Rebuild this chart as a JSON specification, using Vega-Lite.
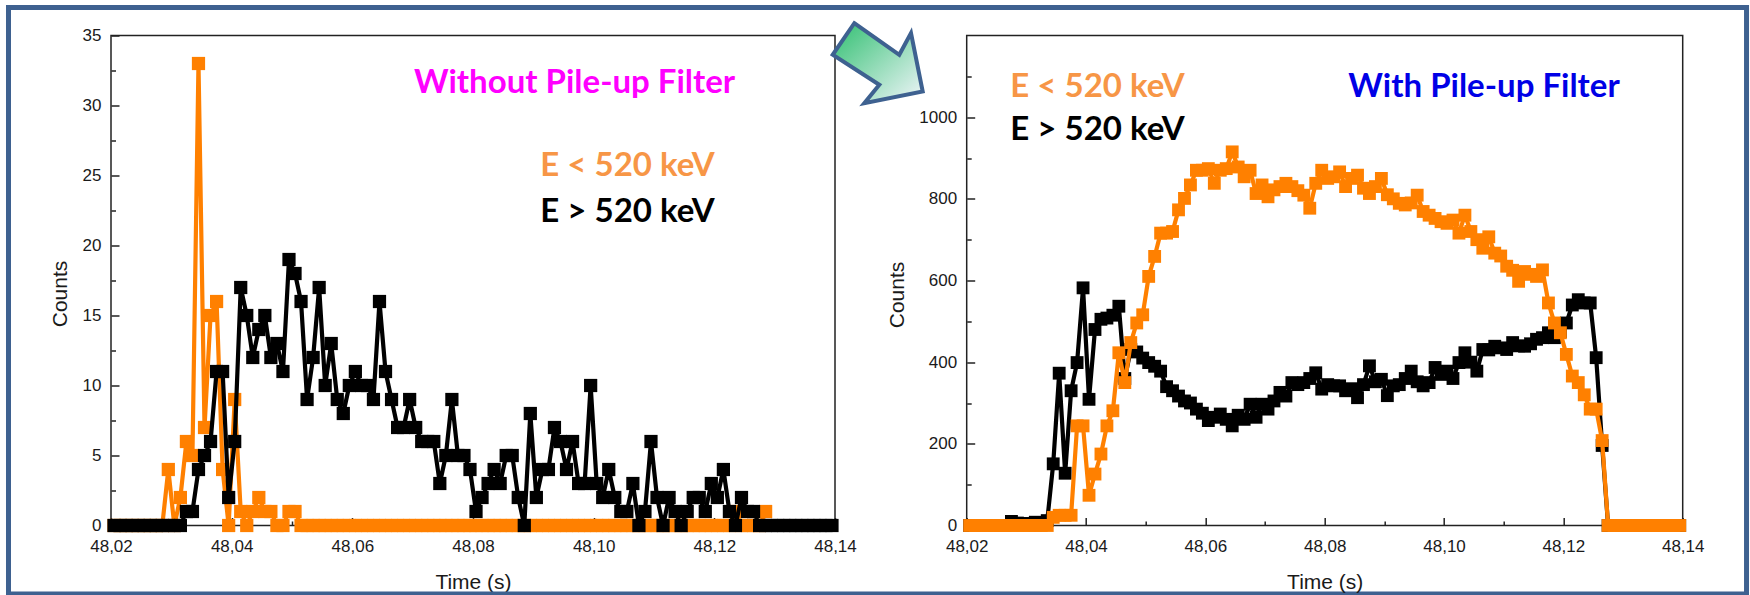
{
 "$schema": "https://vega.github.io/schema/vega-lite/v6.json",
 "background": "white",
 "padding": {"left": 5, "top": 3.5, "right": 2, "bottom": 0},
 "bounds": "flush",
 "spacing": 131.7,
 "resolve": {"scale": {"color": "independent"}},
 "config": {
  "view": {"stroke": "#222222", "strokeWidth": 1.5},
  "font": "Liberation Sans",
  "axis": {"grid": false, "domain": false, "labelFont": "Liberation Sans", "labelFontSize": 17, "labelColor": "#1a1a1a", "titleFont": "Liberation Sans", "titleFontSize": 21, "titleFontWeight": "normal", "titleColor": "#1a1a1a", "tickColor": "#222222", "tickWidth": 1.5, "labelFlush": false, "labelOverlap": false}
 },
 "datasets": {
  "frame": [{"time_start": 48.003011, "time_end": 48.291082, "counts_top": 37.0, "counts_bottom": -4.893}],
  "arrow": [{"time": 48.005084, "counts": 1132.2}],
  "labels_pre": [
   {"time": 48.096824, "counts": 30.86, "label": "Without Pile-up Filter"},
   {"time": 48.105608, "counts": 24.93, "label": "E < 520 keV"},
   {"time": 48.105608, "counts": 21.71, "label": "E > 520 keV"}
  ],
  "labels_post": [
   {"time": 48.10670, "counts": 1050.6, "label": "With Pile-up Filter"},
   {"time": 48.041922, "counts": 1050.6, "label": "E < 520 keV"},
   {"time": 48.041922, "counts": 945.3, "label": "E > 520 keV"}
  ],
  "pre_high": [
   {"time":48.0205,"counts":0},{"time":48.0215,"counts":0},{"time":48.0225,"counts":0},{"time":48.0235,"counts":0},{"time":48.0245,"counts":0},{"time":48.0255,"counts":0},{"time":48.0265,"counts":0},{"time":48.0275,"counts":0},{"time":48.0285,"counts":0},{"time":48.0295,"counts":0},
   {"time":48.0305,"counts":0},{"time":48.0315,"counts":0},{"time":48.0325,"counts":1},{"time":48.0335,"counts":1},{"time":48.0345,"counts":4},{"time":48.0355,"counts":5},{"time":48.0365,"counts":6},{"time":48.0375,"counts":11},{"time":48.0385,"counts":11},{"time":48.0395,"counts":2},
   {"time":48.0405,"counts":6},{"time":48.0415,"counts":17},{"time":48.0425,"counts":15},{"time":48.0435,"counts":12},{"time":48.0445,"counts":14},{"time":48.0455,"counts":15},{"time":48.0465,"counts":12},{"time":48.0475,"counts":13},{"time":48.0485,"counts":11},{"time":48.0495,"counts":19},
   {"time":48.0505,"counts":18},{"time":48.0515,"counts":16},{"time":48.0525,"counts":9},{"time":48.0535,"counts":12},{"time":48.0545,"counts":17},{"time":48.0555,"counts":10},{"time":48.0565,"counts":13},{"time":48.0575,"counts":9},{"time":48.0585,"counts":8},{"time":48.0595,"counts":10},
   {"time":48.0605,"counts":11},{"time":48.0615,"counts":10},{"time":48.0625,"counts":10},{"time":48.0635,"counts":9},{"time":48.0645,"counts":16},{"time":48.0655,"counts":11},{"time":48.0665,"counts":9},{"time":48.0675,"counts":7},{"time":48.0685,"counts":7},{"time":48.0695,"counts":9},
   {"time":48.0705,"counts":7},{"time":48.0715,"counts":6},{"time":48.0725,"counts":6},{"time":48.0735,"counts":6},{"time":48.0745,"counts":3},{"time":48.0755,"counts":5},{"time":48.0765,"counts":9},{"time":48.0775,"counts":5},{"time":48.0785,"counts":5},{"time":48.0795,"counts":4},
   {"time":48.0805,"counts":1},{"time":48.0815,"counts":2},{"time":48.0825,"counts":3},{"time":48.0835,"counts":4},{"time":48.0845,"counts":3},{"time":48.0855,"counts":5},{"time":48.0865,"counts":5},{"time":48.0875,"counts":2},{"time":48.0885,"counts":0},{"time":48.0895,"counts":8},
   {"time":48.0905,"counts":2},{"time":48.0915,"counts":4},{"time":48.0925,"counts":4},{"time":48.0935,"counts":7},{"time":48.0945,"counts":6},{"time":48.0955,"counts":4},{"time":48.0965,"counts":6},{"time":48.0975,"counts":3},{"time":48.0985,"counts":3},{"time":48.0995,"counts":10},
   {"time":48.1005,"counts":3},{"time":48.1015,"counts":2},{"time":48.1025,"counts":4},{"time":48.1035,"counts":2},{"time":48.1045,"counts":1},{"time":48.1055,"counts":1},{"time":48.1065,"counts":3},{"time":48.1075,"counts":0},{"time":48.1085,"counts":1},{"time":48.1095,"counts":6},
   {"time":48.1105,"counts":2},{"time":48.1115,"counts":0},{"time":48.1125,"counts":2},{"time":48.1135,"counts":1},{"time":48.1145,"counts":0},{"time":48.1155,"counts":1},{"time":48.1165,"counts":2},{"time":48.1175,"counts":2},{"time":48.1185,"counts":1},{"time":48.1195,"counts":3},
   {"time":48.1205,"counts":2},{"time":48.1215,"counts":4},{"time":48.1225,"counts":1},{"time":48.1235,"counts":0},{"time":48.1245,"counts":2},{"time":48.1255,"counts":1},{"time":48.1265,"counts":1},{"time":48.1275,"counts":0},{"time":48.1285,"counts":0},{"time":48.1295,"counts":0},
   {"time":48.1305,"counts":0},{"time":48.1315,"counts":0},{"time":48.1325,"counts":0},{"time":48.1335,"counts":0},{"time":48.1345,"counts":0},{"time":48.1355,"counts":0},{"time":48.1365,"counts":0},{"time":48.1375,"counts":0},{"time":48.1385,"counts":0},{"time":48.1395,"counts":0}
  ],
  "pre_low": [
   {"time":48.0205,"counts":0},{"time":48.0215,"counts":0},{"time":48.0225,"counts":0},{"time":48.0235,"counts":0},{"time":48.0245,"counts":0},{"time":48.0255,"counts":0},{"time":48.0265,"counts":0},{"time":48.0275,"counts":0},{"time":48.0285,"counts":0},{"time":48.0295,"counts":4},
   {"time":48.0305,"counts":0},{"time":48.0315,"counts":2},{"time":48.0325,"counts":6},{"time":48.0335,"counts":5},{"time":48.0345,"counts":33},{"time":48.0355,"counts":7},{"time":48.0365,"counts":15},{"time":48.0375,"counts":16},{"time":48.0385,"counts":4},{"time":48.0395,"counts":0},
   {"time":48.0405,"counts":9},{"time":48.0415,"counts":1},{"time":48.0425,"counts":0},{"time":48.0435,"counts":1},{"time":48.0445,"counts":2},{"time":48.0455,"counts":1},{"time":48.0465,"counts":1},{"time":48.0475,"counts":0},{"time":48.0485,"counts":0},{"time":48.0495,"counts":1},
   {"time":48.0505,"counts":1},{"time":48.0515,"counts":0},{"time":48.0525,"counts":0},{"time":48.0535,"counts":0},{"time":48.0545,"counts":0},{"time":48.0555,"counts":0},{"time":48.0565,"counts":0},{"time":48.0575,"counts":0},{"time":48.0585,"counts":0},{"time":48.0595,"counts":0},
   {"time":48.0605,"counts":0},{"time":48.0615,"counts":0},{"time":48.0625,"counts":0},{"time":48.0635,"counts":0},{"time":48.0645,"counts":0},{"time":48.0655,"counts":0},{"time":48.0665,"counts":0},{"time":48.0675,"counts":0},{"time":48.0685,"counts":0},{"time":48.0695,"counts":0},
   {"time":48.0705,"counts":0},{"time":48.0715,"counts":0},{"time":48.0725,"counts":0},{"time":48.0735,"counts":0},{"time":48.0745,"counts":0},{"time":48.0755,"counts":0},{"time":48.0765,"counts":0},{"time":48.0775,"counts":0},{"time":48.0785,"counts":0},{"time":48.0795,"counts":0},
   {"time":48.0805,"counts":0},{"time":48.0815,"counts":0},{"time":48.0825,"counts":0},{"time":48.0835,"counts":0},{"time":48.0845,"counts":0},{"time":48.0855,"counts":0},{"time":48.0865,"counts":0},{"time":48.0875,"counts":0},{"time":48.0885,"counts":0},{"time":48.0895,"counts":0},
   {"time":48.0905,"counts":0},{"time":48.0915,"counts":0},{"time":48.0925,"counts":0},{"time":48.0935,"counts":0},{"time":48.0945,"counts":0},{"time":48.0955,"counts":0},{"time":48.0965,"counts":0},{"time":48.0975,"counts":0},{"time":48.0985,"counts":0},{"time":48.0995,"counts":0},
   {"time":48.1005,"counts":0},{"time":48.1015,"counts":0},{"time":48.1025,"counts":0},{"time":48.1035,"counts":0},{"time":48.1045,"counts":0},{"time":48.1055,"counts":0},{"time":48.1065,"counts":0},{"time":48.1075,"counts":0},{"time":48.1085,"counts":0},{"time":48.1095,"counts":0},
   {"time":48.1105,"counts":0},{"time":48.1115,"counts":0},{"time":48.1125,"counts":0},{"time":48.1135,"counts":0},{"time":48.1145,"counts":0},{"time":48.1155,"counts":0},{"time":48.1165,"counts":0},{"time":48.1175,"counts":0},{"time":48.1185,"counts":0},{"time":48.1195,"counts":0},
   {"time":48.1205,"counts":0},{"time":48.1215,"counts":0},{"time":48.1225,"counts":0},{"time":48.1235,"counts":1},{"time":48.1245,"counts":0},{"time":48.1255,"counts":0},{"time":48.1265,"counts":0},{"time":48.1275,"counts":0},{"time":48.1285,"counts":1}
  ],
  "post_high": [
   {"time":48.0205,"counts":0},{"time":48.0215,"counts":0},{"time":48.0225,"counts":0},{"time":48.0235,"counts":0},{"time":48.0245,"counts":0},{"time":48.0255,"counts":0},{"time":48.0265,"counts":0},{"time":48.0275,"counts":10},{"time":48.0285,"counts":6},{"time":48.0295,"counts":4},
   {"time":48.0305,"counts":5},{"time":48.0315,"counts":8},{"time":48.0325,"counts":6},{"time":48.0335,"counts":12},{"time":48.0345,"counts":151},{"time":48.0355,"counts":373},{"time":48.0365,"counts":128},{"time":48.0375,"counts":330},{"time":48.0385,"counts":399},{"time":48.0395,"counts":582},
   {"time":48.0405,"counts":309},{"time":48.0415,"counts":480},{"time":48.0425,"counts":505},{"time":48.0435,"counts":508},{"time":48.0445,"counts":515},{"time":48.0455,"counts":537},{"time":48.0465,"counts":360},{"time":48.0475,"counts":431},{"time":48.0485,"counts":425},{"time":48.0495,"counts":410},
   {"time":48.0505,"counts":399},{"time":48.0515,"counts":390},{"time":48.0525,"counts":378},{"time":48.0535,"counts":340},{"time":48.0545,"counts":330},{"time":48.0555,"counts":317},{"time":48.0565,"counts":305},{"time":48.0575,"counts":300},{"time":48.0585,"counts":285},{"time":48.0595,"counts":275},
   {"time":48.0605,"counts":257},{"time":48.0615,"counts":265},{"time":48.0625,"counts":273},{"time":48.0635,"counts":260},{"time":48.0645,"counts":244},{"time":48.0655,"counts":270},{"time":48.0665,"counts":260},{"time":48.0675,"counts":297},{"time":48.0685,"counts":265},{"time":48.0695,"counts":297},
   {"time":48.0705,"counts":285},{"time":48.0715,"counts":305},{"time":48.0725,"counts":326},{"time":48.0735,"counts":317},{"time":48.0745,"counts":350},{"time":48.0755,"counts":345},{"time":48.0765,"counts":350},{"time":48.0775,"counts":360},{"time":48.0785,"counts":374},{"time":48.0795,"counts":334},
   {"time":48.0805,"counts":345},{"time":48.0815,"counts":342},{"time":48.0825,"counts":342},{"time":48.0835,"counts":330},{"time":48.0845,"counts":335},{"time":48.0855,"counts":313},{"time":48.0865,"counts":345},{"time":48.0875,"counts":391},{"time":48.0885,"counts":352},{"time":48.0895,"counts":358},
   {"time":48.0905,"counts":318},{"time":48.0915,"counts":342},{"time":48.0925,"counts":345},{"time":48.0935,"counts":360},{"time":48.0945,"counts":378},{"time":48.0955,"counts":352},{"time":48.0965,"counts":342},{"time":48.0975,"counts":350},{"time":48.0985,"counts":387},{"time":48.0995,"counts":370},
   {"time":48.1005,"counts":378},{"time":48.1015,"counts":360},{"time":48.1025,"counts":399},{"time":48.1035,"counts":423},{"time":48.1045,"counts":400},{"time":48.1055,"counts":378},{"time":48.1065,"counts":431},{"time":48.1075,"counts":430},{"time":48.1085,"counts":439},{"time":48.1095,"counts":435},
   {"time":48.1105,"counts":431},{"time":48.1115,"counts":448},{"time":48.1125,"counts":440},{"time":48.1135,"counts":439},{"time":48.1145,"counts":445},{"time":48.1155,"counts":456},{"time":48.1165,"counts":460},{"time":48.1175,"counts":472},{"time":48.1185,"counts":460},{"time":48.1195,"counts":475},
   {"time":48.1205,"counts":496},{"time":48.1215,"counts":540},{"time":48.1225,"counts":553},{"time":48.1235,"counts":545},{"time":48.1245,"counts":545},{"time":48.1255,"counts":411},{"time":48.1265,"counts":196},{"time":48.1275,"counts":0},{"time":48.1285,"counts":0},{"time":48.1295,"counts":0},
   {"time":48.1305,"counts":0},{"time":48.1315,"counts":0},{"time":48.1325,"counts":0},{"time":48.1335,"counts":0},{"time":48.1345,"counts":0},{"time":48.1355,"counts":0},{"time":48.1365,"counts":0},{"time":48.1375,"counts":0},{"time":48.1385,"counts":0},{"time":48.1395,"counts":0}
  ],
  "post_low": [
   {"time":48.0205,"counts":0},{"time":48.0215,"counts":0},{"time":48.0225,"counts":0},{"time":48.0235,"counts":0},{"time":48.0245,"counts":0},{"time":48.0255,"counts":0},{"time":48.0265,"counts":0},{"time":48.0275,"counts":0},{"time":48.0285,"counts":0},{"time":48.0295,"counts":0},
   {"time":48.0305,"counts":0},{"time":48.0315,"counts":0},{"time":48.0325,"counts":0},{"time":48.0335,"counts":0},{"time":48.0345,"counts":20},{"time":48.0355,"counts":25},{"time":48.0365,"counts":25},{"time":48.0375,"counts":25},{"time":48.0385,"counts":244},{"time":48.0395,"counts":244},
   {"time":48.0405,"counts":74},{"time":48.0415,"counts":126},{"time":48.0425,"counts":175},{"time":48.0435,"counts":244},{"time":48.0445,"counts":281},{"time":48.0455,"counts":423},{"time":48.0465,"counts":350},{"time":48.0475,"counts":448},{"time":48.0485,"counts":496},{"time":48.0495,"counts":516},
   {"time":48.0505,"counts":610},{"time":48.0515,"counts":659},{"time":48.0525,"counts":716},{"time":48.0535,"counts":716},{"time":48.0545,"counts":720},{"time":48.0555,"counts":773},{"time":48.0565,"counts":801},{"time":48.0575,"counts":834},{"time":48.0585,"counts":870},{"time":48.0595,"counts":870},
   {"time":48.0605,"counts":874},{"time":48.0615,"counts":838},{"time":48.0625,"counts":870},{"time":48.0635,"counts":874},{"time":48.0645,"counts":915},{"time":48.0655,"counts":878},{"time":48.0665,"counts":854},{"time":48.0675,"counts":870},{"time":48.0685,"counts":813},{"time":48.0695,"counts":834},
   {"time":48.0705,"counts":805},{"time":48.0715,"counts":822},{"time":48.0725,"counts":830},{"time":48.0735,"counts":838},{"time":48.0745,"counts":830},{"time":48.0755,"counts":820},{"time":48.0765,"counts":809},{"time":48.0775,"counts":777},{"time":48.0785,"counts":838},{"time":48.0795,"counts":870},
   {"time":48.0805,"counts":850},{"time":48.0815,"counts":854},{"time":48.0825,"counts":866},{"time":48.0835,"counts":830},{"time":48.0845,"counts":850},{"time":48.0855,"counts":858},{"time":48.0865,"counts":826},{"time":48.0875,"counts":813},{"time":48.0885,"counts":830},{"time":48.0895,"counts":850},
   {"time":48.0905,"counts":810},{"time":48.0915,"counts":800},{"time":48.0925,"counts":789},{"time":48.0935,"counts":785},{"time":48.0945,"counts":790},{"time":48.0955,"counts":809},{"time":48.0965,"counts":769},{"time":48.0975,"counts":760},{"time":48.0985,"counts":752},{"time":48.0995,"counts":744},
   {"time":48.1005,"counts":740},{"time":48.1015,"counts":748},{"time":48.1025,"counts":716},{"time":48.1035,"counts":760},{"time":48.1045,"counts":720},{"time":48.1055,"counts":700},{"time":48.1065,"counts":679},{"time":48.1075,"counts":707},{"time":48.1085,"counts":667},{"time":48.1095,"counts":660},
   {"time":48.1105,"counts":635},{"time":48.1115,"counts":625},{"time":48.1125,"counts":598},{"time":48.1135,"counts":622},{"time":48.1145,"counts":615},{"time":48.1155,"counts":610},{"time":48.1165,"counts":626},{"time":48.1175,"counts":545},{"time":48.1185,"counts":496},{"time":48.1195,"counts":472},
   {"time":48.1205,"counts":419},{"time":48.1215,"counts":366},{"time":48.1225,"counts":350},{"time":48.1235,"counts":320},{"time":48.1245,"counts":285},{"time":48.1255,"counts":285},{"time":48.1265,"counts":208},{"time":48.1275,"counts":0},{"time":48.1285,"counts":0},{"time":48.1295,"counts":0},
   {"time":48.1305,"counts":0},{"time":48.1315,"counts":0},{"time":48.1325,"counts":0},{"time":48.1335,"counts":0},{"time":48.1345,"counts":0},{"time":48.1355,"counts":0},{"time":48.1365,"counts":0},{"time":48.1375,"counts":0},{"time":48.1385,"counts":0},{"time":48.1395,"counts":0}
  ]
 },
 "hconcat": [
  {
   "width": 724,
   "height": 490,
   "resolve": {"axis": {"x": "independent", "y": "independent"}},
   "layer": [
    {
     "data": {"name": "frame"},
     "mark": {"type": "rect", "filled": false, "stroke": "#3e6190", "strokeWidth": 5},
     "encoding": {
      "x": {"field": "time_start", "type": "quantitative", "scale": {"domain": [48.02, 48.14], "nice": false, "zero": false},
            "axis": {"orient": "bottom", "values": [48.03, 48.05, 48.07, 48.09, 48.11, 48.13], "labels": false, "tickSize": -4.5, "title": null}},
      "x2": {"field": "time_end"},
      "y": {"field": "counts_top", "type": "quantitative", "scale": {"domain": [0, 35], "nice": false, "zero": false},
            "axis": {"orient": "left", "values": [2.5, 7.5, 12.5, 17.5, 22.5, 27.5, 32.5], "labels": false, "tickSize": -4.5, "title": null}},
      "y2": {"field": "counts_bottom"}
     }
    },
    {
     "data": {"name": "pre_low"},
     "mark": {"type": "line", "color": "#ff8000", "strokeWidth": 4.2, "strokeJoin": "round",
              "point": {"shape": "square", "size": 175, "filled": true, "color": "#ff8000"}},
     "encoding": {
      "x": {"field": "time", "type": "quantitative", "scale": {"domain": [48.02, 48.14], "nice": false, "zero": false},
            "axis": {"orient": "bottom", "values": [48.02, 48.04, 48.06, 48.08, 48.10, 48.12, 48.14],
                     "labelExpr": "replace(format(datum.value, '.2f'), '.', ',')", "tickSize": -8, "labelPadding": 21,
                     "labelFontSize": 17, "titleFontSize": 21,
                     "title": "Time (s)", "titlePadding": 16.4, "minExtent": 30, "maxExtent": 30}},
      "y": {"field": "counts", "type": "quantitative", "scale": {"domain": [0, 35], "nice": false, "zero": false},
            "axis": {"orient": "left", "values": [0, 5, 10, 15, 20, 25, 30, 35], "tickSize": -8, "labelPadding": 18,
                     "labelFontSize": 17, "titleFontSize": 21, "titleY": 258,
                     "title": "Counts", "titlePadding": 12.6, "minExtent": 28, "maxExtent": 28}}
     }
    },
    {
     "data": {"name": "pre_high"},
     "mark": {"type": "line", "color": "#000000", "strokeWidth": 4.2, "strokeJoin": "round",
              "point": {"shape": "square", "size": 175, "filled": true, "color": "#000000"}},
     "encoding": {
      "x": {"field": "time", "type": "quantitative", "scale": {"domain": [48.02, 48.14], "nice": false, "zero": false}, "axis": null},
      "y": {"field": "counts", "type": "quantitative", "scale": {"domain": [0, 35], "nice": false, "zero": false}, "axis": null}
     }
    },
    {
     "data": {"name": "labels_pre"},
     "mark": {"type": "text", "font": "Lato", "fontWeight": "bold", "fontSize": 33, "align": "center", "baseline": "alphabetic"},
     "encoding": {
      "x": {"field": "time", "type": "quantitative", "scale": {"domain": [48.02, 48.14], "nice": false, "zero": false}, "axis": null},
      "y": {"field": "counts", "type": "quantitative", "scale": {"domain": [0, 35], "nice": false, "zero": false}, "axis": null},
      "text": {"field": "label"},
      "color": {"field": "label", "type": "nominal", "legend": null,
                "scale": {"domain": ["Without Pile-up Filter", "E < 520 keV", "E > 520 keV"], "range": ["#ff00ff", "#f79646", "#000000"]}}
     }
    }
   ]
  },
  {
   "width": 716,
   "height": 490,
   "resolve": {"axis": {"x": "independent", "y": "independent"}},
   "layer": [
    {
     "data": {"name": "post_high"},
     "mark": {"type": "line", "color": "#000000", "strokeWidth": 4.2, "strokeJoin": "round",
              "point": {"shape": "square", "size": 165, "filled": true, "color": "#000000"}},
     "encoding": {
      "x": {"field": "time", "type": "quantitative", "scale": {"domain": [48.02, 48.14], "nice": false, "zero": false},
            "axis": {"orient": "bottom", "values": [48.03, 48.05, 48.07, 48.09, 48.11, 48.13], "labels": false, "tickSize": -4.5, "title": null}},
      "y": {"field": "counts", "type": "quantitative", "scale": {"domain": [0, 1200], "nice": false, "zero": false},
            "axis": {"orient": "left", "values": [100, 300, 500, 700, 900, 1100], "labels": false, "tickSize": -4.5, "title": null}}
     }
    },
    {
     "data": {"name": "post_low"},
     "mark": {"type": "line", "color": "#ff8000", "strokeWidth": 4.2, "strokeJoin": "round",
              "point": {"shape": "square", "size": 165, "filled": true, "color": "#ff8000"}},
     "encoding": {
      "x": {"field": "time", "type": "quantitative", "scale": {"domain": [48.02, 48.14], "nice": false, "zero": false},
            "axis": {"orient": "bottom", "values": [48.02, 48.04, 48.06, 48.08, 48.10, 48.12, 48.14],
                     "labelExpr": "replace(format(datum.value, '.2f'), '.', ',')", "tickSize": -8, "labelPadding": 21,
                     "labelFontSize": 17, "titleFontSize": 21,
                     "title": "Time (s)", "titlePadding": 16.4, "minExtent": 30, "maxExtent": 30}},
      "y": {"field": "counts", "type": "quantitative", "scale": {"domain": [0, 1200], "nice": false, "zero": false},
            "axis": {"orient": "left", "values": [0, 200, 400, 600, 800, 1000], "format": "d", "tickSize": -8, "labelPadding": 18,
                     "labelFontSize": 17, "titleFontSize": 21, "titleY": 259,
                     "title": "Counts", "titlePadding": 13.6, "minExtent": 46, "maxExtent": 46}}
     }
    },
    {
     "data": {"name": "labels_post"},
     "mark": {"type": "text", "font": "Lato", "fontWeight": "bold", "fontSize": 33, "align": "center", "baseline": "alphabetic"},
     "encoding": {
      "x": {"field": "time", "type": "quantitative", "scale": {"domain": [48.02, 48.14], "nice": false, "zero": false}, "axis": null},
      "y": {"field": "counts", "type": "quantitative", "scale": {"domain": [0, 1200], "nice": false, "zero": false}, "axis": null},
      "text": {"field": "label"},
      "color": {"field": "label", "type": "nominal", "legend": null,
                "scale": {"domain": ["With Pile-up Filter", "E < 520 keV", "E > 520 keV"], "range": ["#0000e6", "#f79646", "#000000"]}}
     }
    },
    {
     "data": {"name": "arrow"},
     "mark": {"type": "point", "filled": true, "size": 8100, "opacity": 1,
              "shape": "M -0.52 -0.889 L 0.48 -0.187 L 0.74 -0.667 L 1 0.629 L -0.298 0.889 L 0.036 0.48 L -1 -0.187 Z",
              "fill": {"gradient": "linear", "x1": 0, "y1": 0, "x2": 1, "y2": 1, "stops": [{"offset": 0, "color": "#2fbf70"}, {"offset": 1, "color": "#f2f6fb"}]},
              "stroke": "#3e6190", "strokeWidth": 4, "strokeJoin": "miter"},
     "encoding": {
      "x": {"field": "time", "type": "quantitative", "scale": {"domain": [48.02, 48.14], "nice": false, "zero": false}, "axis": null},
      "y": {"field": "counts", "type": "quantitative", "scale": {"domain": [0, 1200], "nice": false, "zero": false}, "axis": null}
     }
    }
   ]
  }
 ]
}
